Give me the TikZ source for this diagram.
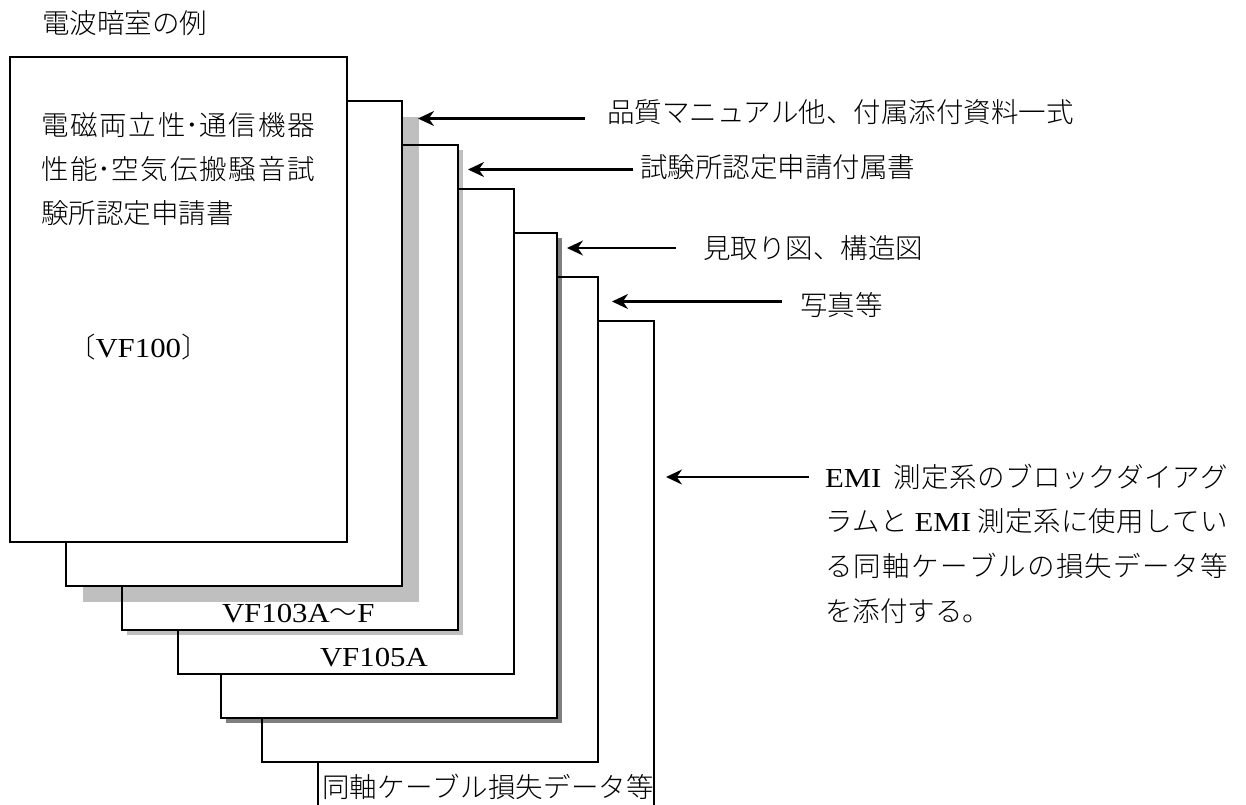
\documentclass[tikz,border=0pt]{standalone}
\usepackage{fontspec}
\usetikzlibrary{arrows.meta}
\setmainfont{Noto Sans CJK JP}[UprightFont=* Light]
\newfontfamily\lat[FakeStretch=1.12]{Liberation Serif}
\newcommand{\gp}{\hfil}
\tikzset{
  pagebox/.style={draw=black,line width=1.5pt,fill=white,inner sep=0pt,outer sep=0pt,anchor=north west,minimum width=336pt,minimum height=485pt},
  lightshadow/.style={draw=none,fill=black,fill opacity=.25,inner sep=0pt,outer sep=0pt,anchor=north west,minimum width=336pt,minimum height=485pt},
  darkshadow/.style={lightshadow,fill opacity=.5},
  lbl/.style={inner sep=0pt,outer sep=0pt,anchor=base west,font=\fontsize{27.5pt}{32pt}\selectfont},
  pointer/.style={line width=2.2pt,-{Stealth[length=16pt,width=15pt]}},
}
\begin{document}
\begin{tikzpicture}[x=1pt,y=-1pt]
\useasboundingbox (0,0) rectangle (1246,804);
\clip (0,0) rectangle (1246,804);
\fill[white] (0,0) rectangle (1246,804);
\node[pagebox] (p7) at (318,321) {};
\node[pagebox] (p6) at (262,277) {};
\node[darkshadow] (s5) at (226,238) {};
\node[pagebox] (p5) at (221,233) {};
\node[pagebox] (p4) at (178,189) {};
\node[lightshadow] (s3) at (127,150) {};
\node[pagebox] (p3) at (122,145) {};
\node[lightshadow] (s2) at (83,117) {};
\node[pagebox] (p2) at (66,101) {};
\node[pagebox,minimum width=337pt] (p1) at (10,57) {};
\node[lbl] (title) at (42,33) {電波暗室の例};
\node[lbl] (t1a) at (41,135) {\makebox[274pt][s]{電\gp 磁\gp 両\gp 立\gp 性･通\gp 信\gp 機\gp 器}};
\node[lbl] (t1b) at (41,179) {\makebox[274pt][s]{性\gp 能･空\gp 気\gp 伝\gp 搬\gp 騒\gp 音\gp 試}};
\node[lbl] (t1c) at (41,223) {験所認定申請書};
\node[lbl] (t1d) at (68,357) {〔{\lat VF100}〕};
\node[lbl] (l1) at (607,122) {品質マニュアル他、付属添付資料一式};
\node[lbl] (l2) at (640,177) {試験所認定申請付属書};
\node[lbl] (l3) at (703,258) {見取り図、構造図};
\node[lbl] (l4) at (800,315) {写真等};
\node[lbl] (e1) at (825,487) {\makebox[403pt][s]{{\lat EMI}\hspace{12pt}\gp 測\gp 定\gp 系\gp の\gp ブ\gp ロ\gp ッ\gp ク\gp ダ\gp イ\gp ア\gp グ}};
\node[lbl] (e2) at (825,531) {\makebox[403pt][s]{ラ\gp ム\gp と\hspace{6pt}\gp {\lat EMI}\hspace{6pt}\gp 測\gp 定\gp 系\gp に\gp 使\gp 用\gp し\gp て\gp い}};
\node[lbl] (e3) at (825,576) {\makebox[403pt][s]{る\gp 同\gp 軸\gp ケ\gp ー\gp ブ\gp ル\gp の\gp 損\gp 失\gp デ\gp ー\gp タ\gp 等}};
\node[lbl] (e4) at (825,621) {を添付する。};
\node[lbl] (v3) at (222,622) {{\lat VF103A}〜{\lat F}};
\node[lbl] (v5) at (320,666) {{\lat VF105A}};
\node[lbl] (c7) at (322,797) {\makebox[332pt][s]{同\gp 軸\gp ケ\gp ー\gp ブ\gp ル\gp 損\gp 失\gp デ\gp ー\gp タ\gp 等}};
\coordinate (a1s) at (585,118.5); \coordinate (a1e) at (418,118.5);
\coordinate (a2s) at (633,169.5); \coordinate (a2e) at (468,169.5);
\coordinate (a3s) at (676,248); \coordinate (a3e) at (567,248);
\coordinate (a4s) at (782,301.5); \coordinate (a4e) at (612,301.5);
\coordinate (a5s) at (809,477); \coordinate (a5e) at (666,477);
\draw[pointer] (a1s) -- (a1e);
\draw[pointer] (a2s) -- (a2e);
\draw[pointer] (a3s) -- (a3e);
\draw[pointer] (a4s) -- (a4e);
\draw[pointer] (a5s) -- (a5e);
\end{tikzpicture}
\end{document}
